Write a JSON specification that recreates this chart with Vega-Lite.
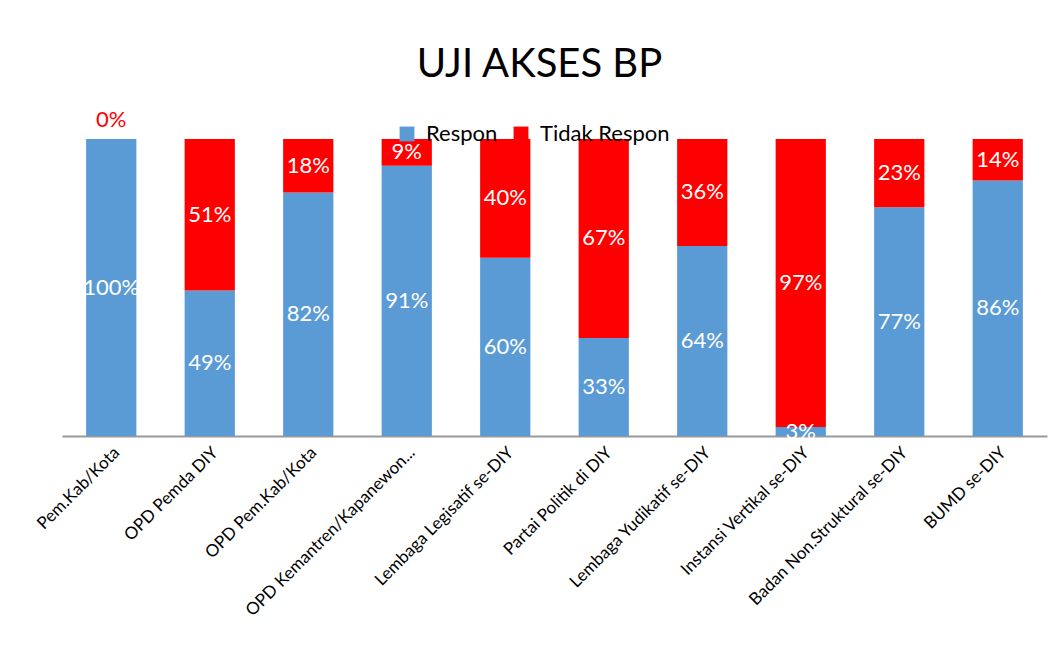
{
  "$schema": "https://vega.github.io/schema/vega-lite/v6.json",
  "width": 985,
  "height": 297,
  "autosize": {"type": "none"},
  "padding": {"left": 62, "top": 139, "right": 13, "bottom": 223},
  "background": "white",
  "config": {"view": {"stroke": null}},
  "title": {"text": "UJI AKSES BP", "fontSize": 40, "font": "Lato", "fontWeight": "normal", "color": "black", "anchor": "middle", "offset": 24, "dx": -15},
  "data": {"values": [
    {"kategori": "Pem.Kab/Kota", "status": "Respon", "nilai": 100, "urut": 1},
    {"kategori": "Pem.Kab/Kota", "status": "Tidak Respon", "nilai": 0, "urut": 2},
    {"kategori": "OPD Pemda DIY", "status": "Respon", "nilai": 49, "urut": 1},
    {"kategori": "OPD Pemda DIY", "status": "Tidak Respon", "nilai": 51, "urut": 2},
    {"kategori": "OPD Pem.Kab/Kota", "status": "Respon", "nilai": 82, "urut": 1},
    {"kategori": "OPD Pem.Kab/Kota", "status": "Tidak Respon", "nilai": 18, "urut": 2},
    {"kategori": "OPD Kemantren/Kapanewon...", "status": "Respon", "nilai": 91, "urut": 1},
    {"kategori": "OPD Kemantren/Kapanewon...", "status": "Tidak Respon", "nilai": 9, "urut": 2},
    {"kategori": "Lembaga Legisatif se-DIY", "status": "Respon", "nilai": 60, "urut": 1},
    {"kategori": "Lembaga Legisatif se-DIY", "status": "Tidak Respon", "nilai": 40, "urut": 2},
    {"kategori": "Partai Politik di DIY", "status": "Respon", "nilai": 33, "urut": 1},
    {"kategori": "Partai Politik di DIY", "status": "Tidak Respon", "nilai": 67, "urut": 2},
    {"kategori": "Lembaga Yudikatif se-DIY", "status": "Respon", "nilai": 64, "urut": 1},
    {"kategori": "Lembaga Yudikatif se-DIY", "status": "Tidak Respon", "nilai": 36, "urut": 2},
    {"kategori": "Instansi Vertikal se-DIY", "status": "Respon", "nilai": 3, "urut": 1},
    {"kategori": "Instansi Vertikal se-DIY", "status": "Tidak Respon", "nilai": 97, "urut": 2},
    {"kategori": "Badan Non.Struktural se-DIY", "status": "Respon", "nilai": 77, "urut": 1},
    {"kategori": "Badan Non.Struktural se-DIY", "status": "Tidak Respon", "nilai": 23, "urut": 2},
    {"kategori": "BUMD se-DIY", "status": "Respon", "nilai": 86, "urut": 1},
    {"kategori": "BUMD se-DIY", "status": "Tidak Respon", "nilai": 14, "urut": 2}
  ]},
  "encoding": {
    "x": {"field": "kategori", "type": "nominal", "sort": null,
      "scale": {"paddingInner": 0.49, "paddingOuter": 0.245},
      "axis": {"title": null, "labelAngle": -45, "labelFont": "Lato", "labelFontSize": 17, "labelColor": "black", "ticks": false, "domainColor": "#999999", "domainWidth": 2, "labelPadding": 8, "labelLimit": 400}}
  },
  "layer": [
    {
      "mark": {"type": "bar"},
      "encoding": {
        "y": {"field": "nilai", "type": "quantitative", "stack": "zero", "scale": {"domain": [0, 100]}, "axis": null},
        "order": {"field": "urut", "type": "quantitative"},
        "color": {"field": "status", "type": "nominal",
          "scale": {"domain": ["Respon", "Tidak Respon"], "range": ["#5B9BD5", "#FF0000"]},
          "legend": {"title": null, "orient": "none", "legendX": 334, "legendY": -16, "direction": "horizontal", "symbolType": "square", "symbolSize": 220, "symbolStrokeWidth": 0, "labelFont": "Lato", "labelFontSize": 22, "labelColor": "black", "columnPadding": 12, "labelOffset": 8}}
      }
    },
    {
      "transform": [
        {"stack": "nilai", "groupby": ["kategori"], "sort": [{"field": "urut"}], "as": ["y0", "y1"]},
        {"calculate": "(datum.y0 + datum.y1) / 2", "as": "ymid"},
        {"calculate": "datum.nilai + '%'", "as": "label"},
        {"filter": "datum.nilai > 0"}
      ],
      "mark": {"type": "text", "color": "white", "font": "Lato", "fontSize": 22, "baseline": "middle"},
      "encoding": {
        "y": {"field": "ymid", "type": "quantitative"},
        "text": {"field": "label"}
      }
    },
    {
      "transform": [
        {"stack": "nilai", "groupby": ["kategori"], "sort": [{"field": "urut"}], "as": ["y0", "y1"]},
        {"calculate": "datum.nilai + '%'", "as": "label"},
        {"filter": "datum.nilai == 0"}
      ],
      "mark": {"type": "text", "color": "#FF0000", "font": "Lato", "fontSize": 22, "baseline": "middle", "dy": -19},
      "encoding": {
        "y": {"field": "y1", "type": "quantitative"},
        "text": {"field": "label"}
      }
    }
  ]
}
